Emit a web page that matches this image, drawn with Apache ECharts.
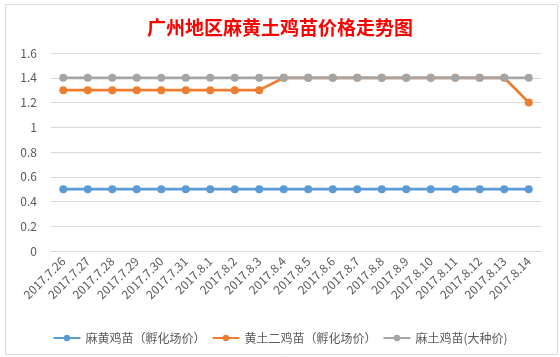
<!DOCTYPE html>
<html>
<head>
<meta charset="utf-8">
<script src="https://cdn.jsdelivr.net/npm/echarts@6/dist/echarts.min.js"></script>
<style>
html,body{margin:0;padding:0;background:#fff;}
#c{width:560px;height:357px;}
</style>
</head>
<body>
<div id="c"></div>
<script>
const titleText = '广州地区麻黄土鸡苗价格走势图';
const categories = ['2017.7.26','2017.7.27','2017.7.28','2017.7.29','2017.7.30','2017.7.31','2017.8.1','2017.8.2','2017.8.3','2017.8.4','2017.8.5','2017.8.6','2017.8.7','2017.8.8','2017.8.9','2017.8.10','2017.8.11','2017.8.12','2017.8.13','2017.8.14'];
const seriesNames = ['麻黄鸡苗（孵化场价）','黄土二鸡苗（孵化场价）','麻土鸡苗(大种价)'];
const mahuang = [0.5,0.5,0.5,0.5,0.5,0.5,0.5,0.5,0.5,0.5,0.5,0.5,0.5,0.5,0.5,0.5,0.5,0.5,0.5,0.5];
const huangtu2 = [1.3,1.3,1.3,1.3,1.3,1.3,1.3,1.3,1.3,1.4,1.4,1.4,1.4,1.4,1.4,1.4,1.4,1.4,1.4,1.2];
const matu = [1.4,1.4,1.4,1.4,1.4,1.4,1.4,1.4,1.4,1.4,1.4,1.4,1.4,1.4,1.4,1.4,1.4,1.4,1.4,1.4];
const colors = ['#5B9BD5','#ED7D31','#A5A5A5'];
const values = [mahuang, huangtu2, matu];

const chart = echarts.init(document.getElementById('c'), null, {renderer:'canvas'});
chart.setOption({
  animation:false,
  backgroundColor:'#ffffff',
  color: colors,
  graphic:[{
    type:'rect', left:3, top:2, silent:true, z:-10,
    shape:{width:552, height:350},
    style:{fill:'none', stroke:'#d9d9d9', lineWidth:1}
  }],
  title:{
    text:titleText, left:'center', top:13,
    textStyle:{color:'#FF0000', fontSize:19, fontWeight:'bold', fontFamily:'Noto Sans CJK SC'}
  },
  legend:{
    top:327, left:'center', itemGap:6, itemWidth:27, itemHeight:8,
    data: seriesNames,
    textStyle:{color:'#595959', fontSize:12, fontFamily:'Noto Sans CJK SC'}
  },
  grid:{left:51, right:19, top:53, height:198, containLabel:false},
  xAxis:{
    type:'category', data:categories, boundaryGap:true,
    axisLine:{lineStyle:{color:'#d9d9d9'}},
    axisTick:{show:false},
    axisLabel:{rotate:45, color:'#595959', fontSize:12, margin:8, interval:0, fontFamily:'Noto Sans CJK SC'}
  },
  yAxis:{
    type:'value', min:0, max:1.6, interval:0.2,
    axisLine:{show:false}, axisTick:{show:false},
    splitLine:{lineStyle:{color:'#d9d9d9'}},
    axisLabel:{color:'#595959', fontSize:12, margin:14, formatter:v=>String(Math.round(v*10)/10), fontFamily:'Noto Sans CJK SC'}
  },
  series: seriesNames.map((n,i)=>({
    name:n, type:'line', data:values[i],
    symbol:'circle', symbolSize:8,
    lineStyle:{width:2.75, color:colors[i]},
    itemStyle:{color:colors[i]},
    z:2+i
  }))
});
</script>
</body>
</html>
